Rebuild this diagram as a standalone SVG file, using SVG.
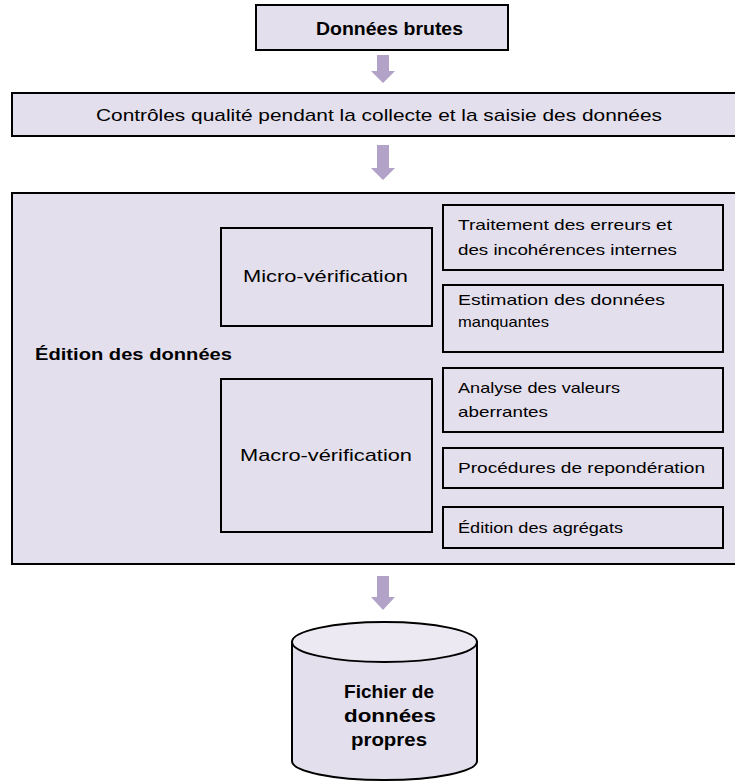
<svg xmlns="http://www.w3.org/2000/svg" width="735" height="782" viewBox="0 0 735 782">
<style>
.box{fill:#e4dfec;stroke:#000;stroke-width:2}
.t{font-family:"Liberation Sans",Arial,sans-serif;fill:#000}
.b{font-weight:bold}
.arrow{fill:#b3a2c7}
</style>
<rect width="735" height="782" fill="#fff"/>
<g id="donnees-brutes">
<rect class="box" x="256" y="5" width="252" height="45"/>
<text class="t b" x="316" y="35" font-size="18" textLength="147" lengthAdjust="spacingAndGlyphs">Données brutes</text>
</g>
<g id="controles">
<rect class="box" x="12" y="93" width="760" height="43"/>
<text class="t" x="96" y="121" font-size="17" textLength="566" lengthAdjust="spacingAndGlyphs">Contrôles qualité pendant la collecte et la saisie des données</text>
</g>
<g id="edition">
<rect class="box" x="12" y="193" width="760" height="371"/>
<text class="t b" x="35" y="360" font-size="17" textLength="197" lengthAdjust="spacingAndGlyphs">Édition des données</text>
</g>
<g id="micro">
<rect class="box" x="221" y="228" width="211" height="98"/>
<text class="t" x="243" y="282" font-size="17" textLength="165" lengthAdjust="spacingAndGlyphs">Micro-vérification</text>
</g>
<g id="macro">
<rect class="box" x="221" y="379" width="211" height="153"/>
<text class="t" x="240" y="461" font-size="17" textLength="172" lengthAdjust="spacingAndGlyphs">Macro-vérification</text>
</g>
<g id="traitement">
<rect class="box" x="443" y="205" width="280" height="65"/>
<text class="t" x="458" y="230" font-size="14.5" textLength="214" lengthAdjust="spacingAndGlyphs">Traitement des erreurs et</text>
<text class="t" x="458" y="255" font-size="14.5" textLength="219" lengthAdjust="spacingAndGlyphs">des incohérences internes</text>
</g>
<g id="estimation">
<rect class="box" x="443" y="285" width="280" height="67"/>
<text class="t" x="458" y="305" font-size="14.5" textLength="207" lengthAdjust="spacingAndGlyphs">Estimation  des données</text>
<text class="t" x="458" y="327" font-size="14.5" textLength="91" lengthAdjust="spacingAndGlyphs">manquantes</text>
</g>
<g id="analyse">
<rect class="box" x="443" y="368" width="280" height="64"/>
<text class="t" x="458" y="393" font-size="14.5" textLength="162" lengthAdjust="spacingAndGlyphs">Analyse des valeurs</text>
<text class="t" x="458" y="417" font-size="14.5" textLength="90" lengthAdjust="spacingAndGlyphs">aberrantes</text>
</g>
<g id="procedures">
<rect class="box" x="443" y="448" width="280" height="40"/>
<text class="t" x="458" y="473" font-size="14.5" textLength="247" lengthAdjust="spacingAndGlyphs">Procédures de repondération</text>
</g>
<g id="agregats">
<rect class="box" x="443" y="507" width="280" height="41"/>
<text class="t" x="458" y="533" font-size="14.5" textLength="165" lengthAdjust="spacingAndGlyphs">Édition des agrégats</text>
</g>
<g id="fichier">
<path d="M292,642 L292,761 A92.5,19 0 0 0 477,761 L477,642 Z" fill="#e4dfec" stroke="#000" stroke-width="2"/>
<ellipse cx="384.5" cy="642" rx="92.5" ry="20" fill="#ece9f2" stroke="#000" stroke-width="2"/>
<text class="t b" x="344" y="698" font-size="18" textLength="90" lengthAdjust="spacingAndGlyphs">Fichier de</text>
<text class="t b" x="344" y="722" font-size="18" textLength="92" lengthAdjust="spacingAndGlyphs">données</text>
<text class="t b" x="351" y="746" font-size="18" textLength="76" lengthAdjust="spacingAndGlyphs">propres</text>
</g>
<g id="connectors">
<path class="arrow" d="M377,55 H389 V71 H395 L383,83 L371,71 H377 Z"/>
<path class="arrow" d="M377,145 H389 V168 H395 L383,180 L371,168 H377 Z"/>
<path class="arrow" d="M377,576 H389 V597 H395 L383,610 L371,597 H377 Z"/>
</g>
</svg>
